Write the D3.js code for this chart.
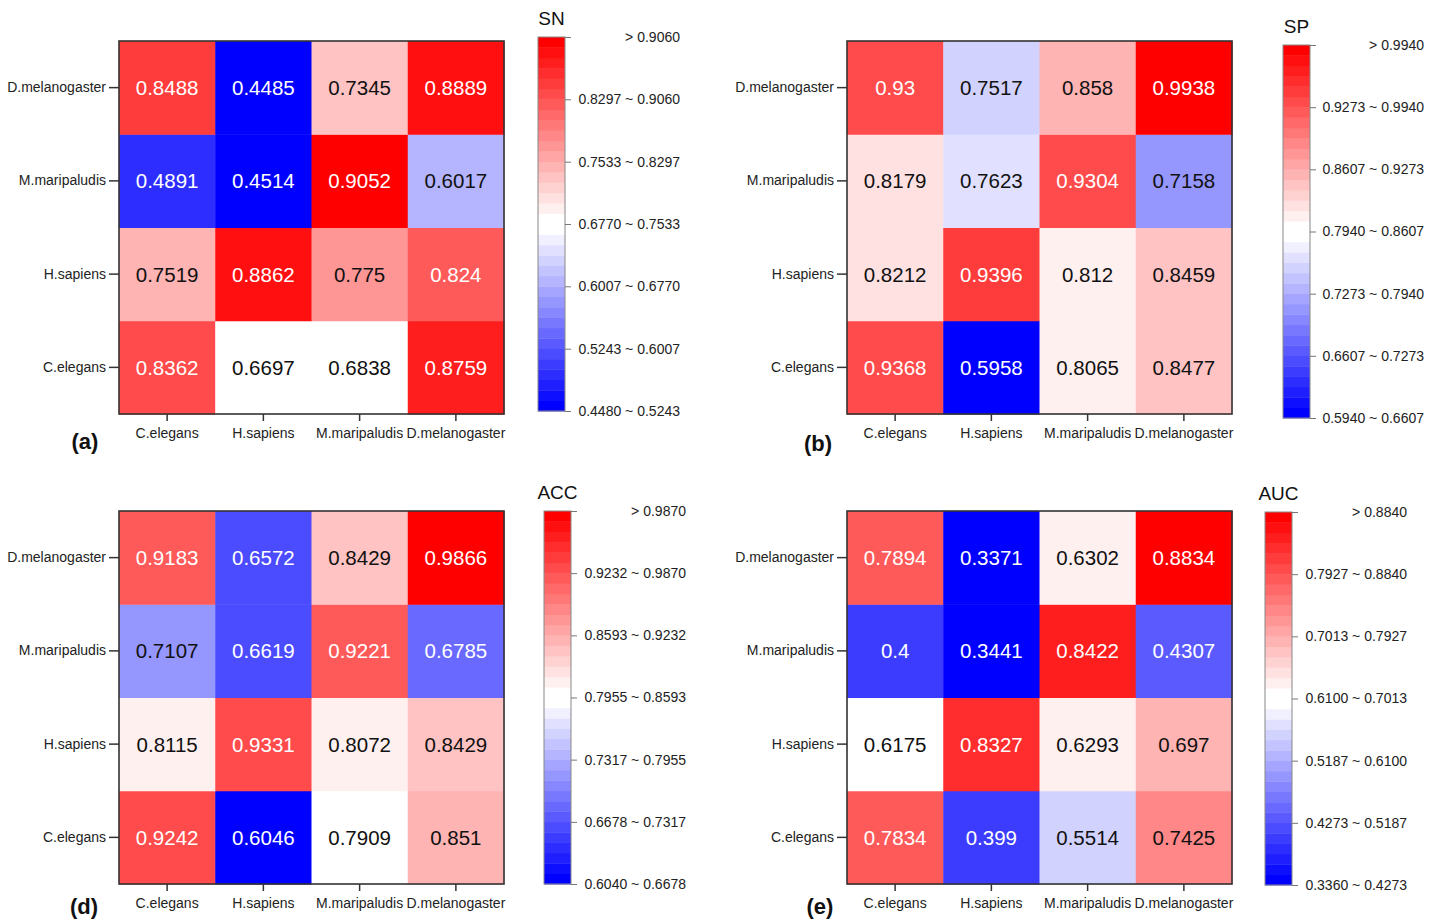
<!DOCTYPE html>
<html>
<head>
<meta charset="utf-8">
<script src="https://cdn.jsdelivr.net/npm/d3@7"></script>
<style>
  html, body { margin: 0; padding: 0; background: #fff; }
  svg { display: block; font-family: "Liberation Sans", Arial, sans-serif; }
</style>
</head>
<body>
<svg id="chart" width="1442" height="920"></svg>
<script>
// species on both axes (x left->right, y bottom->top)
const species = ["C.elegans", "H.sapiens", "M.maripaludis", "D.melanogaster"];

// rows follow species order (C.elegans row first = bottom row)
const snValues = [
  [0.8362, 0.6697, 0.6838, 0.8759],
  [0.7519, 0.8862, 0.775, 0.824],
  [0.4891, 0.4514, 0.9052, 0.6017],
  [0.8488, 0.4485, 0.7345, 0.8889]
];
const spValues = [
  [0.9368, 0.5958, 0.8065, 0.8477],
  [0.8212, 0.9396, 0.812, 0.8459],
  [0.8179, 0.7623, 0.9304, 0.7158],
  [0.93, 0.7517, 0.858, 0.9938]
];
const accValues = [
  [0.9242, 0.6046, 0.7909, 0.851],
  [0.8115, 0.9331, 0.8072, 0.8429],
  [0.7107, 0.6619, 0.9221, 0.6785],
  [0.9183, 0.6572, 0.8429, 0.9866]
];
const aucValues = [
  [0.7834, 0.399, 0.5514, 0.7425],
  [0.6175, 0.8327, 0.6293, 0.697],
  [0.4, 0.3441, 0.8422, 0.4307],
  [0.7894, 0.3371, 0.6302, 0.8834]
];

// colour-scale level boundaries (legend labels)
const snLevels = [0.4480, 0.5243, 0.6007, 0.6770, 0.7533, 0.8297, 0.9060];
const spLevels = [0.5940, 0.6607, 0.7273, 0.7940, 0.8607, 0.9273, 0.9940];
const accLevels = [0.6040, 0.6678, 0.7317, 0.7955, 0.8593, 0.9232, 0.9870];
const aucLevels = [0.3360, 0.4273, 0.5187, 0.6100, 0.7013, 0.7927, 0.8840];

const NBANDS = 36;
const half = NBANDS / 2;
const bandColors = d3.range(NBANDS).map(i => i < half
  ? d3.interpolateRgb("#0000ff", "#ffffff")(i / (half - 1))
  : d3.interpolateRgb("#ffffff", "#ff0000")((i - half) / (half - 1)));
// how far a band is from white, 0..1
const bandStrength = d3.range(NBANDS).map(i => i < half ? (half - 1 - i) / (half - 1) : (i - half) / (half - 1));

const panels = [
  { title: "SN", tag: "(a)", values: snValues, levels: snLevels,
    hx: [119, 504], hy: [41, 414], cbx: 538, cby: [37, 411], labelRight: 680, titleY: 25, tagX: 85, tagY: 449 },
  { title: "SP", tag: "(b)", values: spValues, levels: spLevels,
    hx: [847, 1232], hy: [41, 414], cbx: 1283, cby: [45, 418], labelRight: 1424, titleY: 33, tagX: 818, tagY: 451 },
  { title: "ACC", tag: "(d)", values: accValues, levels: accLevels,
    hx: [119, 504], hy: [511, 884], cbx: 544, cby: [511, 884], labelRight: 686, titleY: 499, tagX: 84, tagY: 914 },
  { title: "AUC", tag: "(e)", values: aucValues, levels: aucLevels,
    hx: [847, 1232], hy: [511, 884], cbx: 1265, cby: [512, 885], labelRight: 1407, titleY: 500, tagX: 820, tagY: 914 }
];

const svg = d3.select("#chart");
const fmt = d3.format(".4f");

panels.forEach(p => {
  const g = svg.append("g");
  const lo = p.levels[0], hi = p.levels[p.levels.length - 1];
  const color = d3.scaleQuantize().domain([lo, hi]).range(d3.range(NBANDS));

  const x = d3.scaleBand().domain(species).range(p.hx);
  const y = d3.scaleBand().domain(species).range([p.hy[1], p.hy[0]]);

  const cells = [];
  p.values.forEach((row, ri) => row.forEach((v, ci) => {
    cells.push({ row: species[ri], col: species[ci], v: v, band: color(v) });
  }));

  g.selectAll("rect.cell").data(cells).join("rect")
    .attr("class", "cell")
    .attr("x", d => x(d.col))
    .attr("y", d => y(d.row))
    .attr("width", x.bandwidth() + 0.5)
    .attr("height", y.bandwidth() + 0.5)
    .attr("fill", d => bandColors[d.band]);

  g.selectAll("text.val").data(cells).join("text")
    .attr("class", "val")
    .attr("x", d => x(d.col) + x.bandwidth() / 2)
    .attr("y", d => y(d.row) + y.bandwidth() / 2)
    .attr("dy", "0.36em")
    .attr("text-anchor", "middle")
    .attr("font-size", 20.5)
    .attr("fill", d => bandStrength[d.band] > 0.55 ? "#ffffff" : "#111111")
    .text(d => d.v);

  // frame
  g.append("rect")
    .attr("x", p.hx[0]).attr("y", p.hy[0])
    .attr("width", p.hx[1] - p.hx[0]).attr("height", p.hy[1] - p.hy[0])
    .attr("fill", "none").attr("stroke", "#333").attr("stroke-width", 1.6);

  const yAxis = g.append("g")
    .attr("transform", `translate(${p.hx[0]},0)`)
    .call(d3.axisLeft(y).tickSize(10).tickSizeOuter(0).tickPadding(3));
  const xAxis = g.append("g")
    .attr("transform", `translate(0,${p.hy[1]})`)
    .call(d3.axisBottom(x).tickSize(7).tickSizeOuter(0).tickPadding(7));
  [xAxis, yAxis].forEach(a => {
    a.select(".domain").remove();
    a.selectAll(".tick line").attr("stroke", "#333").attr("stroke-width", 1.5);
    a.selectAll(".tick text").attr("font-size", 14).attr("fill", "#222")
      .attr("font-family", "\"Liberation Sans\", Arial, sans-serif");
  });

  // colour bar
  const cbW = 27;
  const cy = d3.scaleLinear().domain([lo, hi]).range([p.cby[1], p.cby[0]]);
  const cb = g.append("g");
  cb.selectAll("rect").data(d3.range(NBANDS)).join("rect")
    .attr("x", p.cbx)
    .attr("y", i => cy(color.invertExtent(i)[1]))
    .attr("width", cbW)
    .attr("height", i => cy(color.invertExtent(i)[0]) - cy(color.invertExtent(i)[1]) + 0.4)
    .attr("fill", i => bandColors[i]);
  cb.append("rect")
    .attr("x", p.cbx).attr("y", p.cby[0])
    .attr("width", cbW).attr("height", p.cby[1] - p.cby[0])
    .attr("fill", "none").attr("stroke", "#888").attr("stroke-width", 1);

  const cbAxis = cb.append("g")
    .attr("transform", `translate(${p.cbx + cbW},0)`)
    .call(d3.axisRight(cy).tickValues(p.levels).tickSize(6).tickFormat(""));
  cbAxis.select(".domain").remove();
  cbAxis.selectAll(".tick line").attr("stroke", "#777");

  const legendLabels = p.levels.map((v, k) => k < p.levels.length - 1
    ? fmt(v) + " ~ " + fmt(p.levels[k + 1])
    : "> " + fmt(v));
  cb.selectAll("text.lab").data(legendLabels).join("text")
    .attr("class", "lab")
    .attr("x", p.labelRight)
    .attr("y", (d, k) => cy(p.levels[k]))
    .attr("dy", "0.35em")
    .attr("text-anchor", "end")
    .attr("font-size", 14)
    .attr("fill", "#222")
    .text(d => d);

  g.append("text")
    .attr("x", p.cbx + cbW / 2)
    .attr("y", p.titleY)
    .attr("text-anchor", "middle")
    .attr("font-size", 19)
    .attr("fill", "#111")
    .text(p.title);

  g.append("text")
    .attr("x", p.tagX)
    .attr("y", p.tagY)
    .attr("text-anchor", "middle")
    .attr("font-size", 22)
    .attr("font-weight", "bold")
    .attr("fill", "#111")
    .text(p.tag);
});
</script>
</body>
</html>
